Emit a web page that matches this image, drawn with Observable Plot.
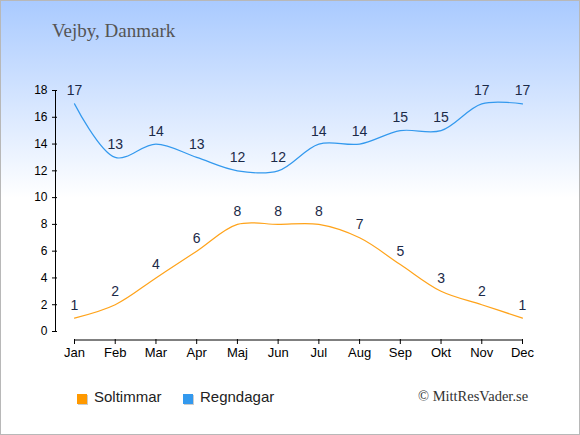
<!DOCTYPE html>
<html>
<head>
<meta charset="utf-8">
<script src="https://cdn.jsdelivr.net/npm/d3@7"></script>
<script src="https://cdn.jsdelivr.net/npm/@observablehq/plot@0.6"></script>
<style>
  html, body { margin: 0; padding: 0; background: white; }
  #wrap {
    position: relative; width: 580px; height: 435px; box-sizing: border-box;
    background: linear-gradient(to bottom, #a9caff 0px, #ffffff 198px, #ffffff 435px);
    overflow: hidden;
  }
  #wrap::after {
    content: ""; position: absolute; left: 0; top: 0; right: 0; bottom: 0;
    border: 1px solid #b8b8b8; pointer-events: none;
  }
  #chart { position: absolute; left: 0; top: 0; }
  #title {
    position: absolute; left: 52px; top: 20px; font-family: "Liberation Serif", serif;
    font-size: 19px; color: #555555;
  }
  .leg { position: absolute; top: 388px; font-family: "Liberation Sans", Arial, sans-serif; font-size: 15px; color: #222; }
  .sw { position: absolute; top: 6px; left: 0; width: 10px; height: 10px; box-shadow: 1px 1px 0 #cccccc; }
  .leg span.t { position: absolute; left: 17px; top: 0; white-space: nowrap; }
  #copy {
    position: absolute; left: 418px; top: 388px; font-family: "Liberation Serif", serif;
    font-size: 14.5px; color: #333; white-space: nowrap;
  }
</style>
</head>
<body>
<div id="wrap">
  <div id="chart"></div>
  <div id="title">Vejby, Danmark</div>
  <div class="leg" style="left:77px"><div class="sw" style="background:#ff9900"></div><span class="t">Soltimmar</span></div>
  <div class="leg" style="left:183px"><div class="sw" style="background:#3399ee"></div><span class="t">Regndagar</span></div>
  <div id="copy">© MittResVader.se</div>
</div>
<script>
const months = ["Jan","Feb","Mar","Apr","Maj","Jun","Jul","Aug","Sep","Okt","Nov","Dec"];
const soltimmar = [1,2,4,6,8,8,8,7,5,3,2,1];
const regndagar = [17,13,14,13,12,12,14,14,15,15,17,17];
const yTicks = [0,2,4,6,8,10,12,14,16,18];

const sunData = months.map((m, i) => ({i, m, v: soltimmar[i]}));
const rainData = months.map((m, i) => ({i, m, v: regndagar[i]}));
const idx = months.map((m, i) => i);
const xMin = -0.4666;

const font = "Liberation Sans, Arial, sans-serif";

const plot = Plot.plot({
  width: 580,
  height: 435,
  marginLeft: 55,
  marginRight: 58,
  marginTop: 90,
  marginBottom: 104,
  style: {background: "transparent", fontFamily: font},
  x: {type: "linear", domain: [xMin, 11], axis: null},
  y: {domain: [0, 18], axis: null},
  marks: [
    // y axis line + ticks
    Plot.ruleX([xMin], {y1: 0, y2: 18, stroke: "black", strokeWidth: 1}),
    Plot.ruleY(yTicks, {x1: xMin, x2: xMin, y: d => d, stroke: "black", insetLeft: -3, insetRight: -2}),
    Plot.text(yTicks, {x: xMin, y: d => d, text: d => String(d), textAnchor: "end", dx: -8, fontSize: 12, fill: "black"}),
    // x axis line + ticks + labels
    Plot.ruleY([0], {x1: idx[0], x2: idx[idx.length - 1], dy: 8.5, stroke: "black"}),
    Plot.ruleX(idx, {x: d => d, y1: 0, y2: 0, dy: 8, insetBottom: -5, stroke: "black"}),
    Plot.text(idx, {x: d => d, y: 0, text: d => months[d], dy: 21, fontSize: 13, fill: "black"}),
    // lines
    Plot.line(rainData, {x: "i", y: "v", stroke: "#3399ee", strokeWidth: 1.2, curve: "catmull-rom"}),
    Plot.line(sunData, {x: "i", y: "v", stroke: "#ffa31a", strokeWidth: 1.2, curve: "catmull-rom"}),
    // value labels
    Plot.text(rainData, {x: "i", y: "v", text: d => String(d.v), dy: -13, fontSize: 14, fill: "#1b2a48"}),
    Plot.text(sunData, {x: "i", y: "v", text: d => String(d.v), dy: -13, fontSize: 14, fill: "#1b2a48"})
  ]
});
document.getElementById("chart").appendChild(plot);
</script>
</body>
</html>
